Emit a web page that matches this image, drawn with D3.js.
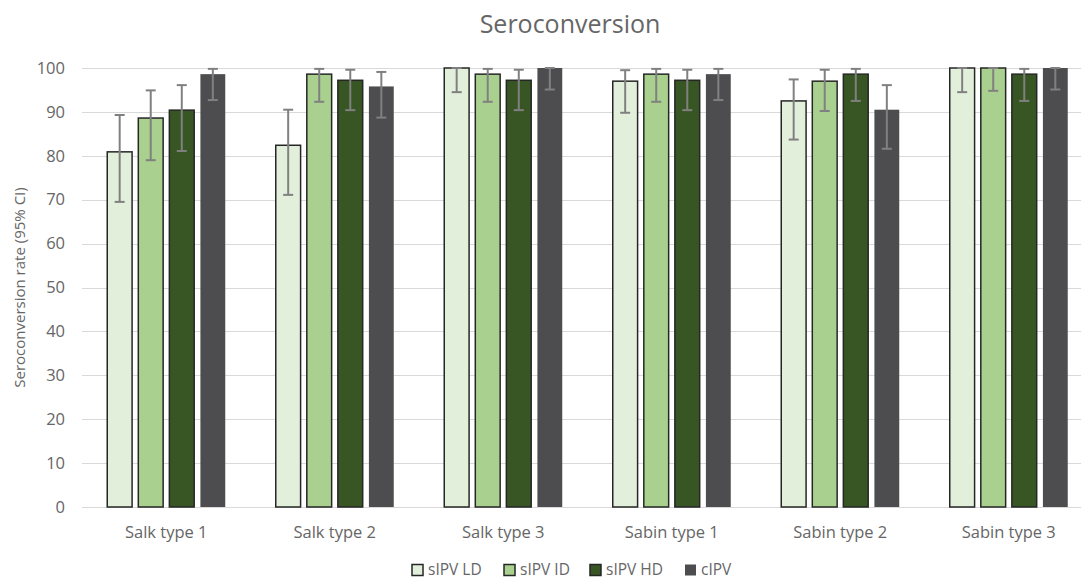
<!DOCTYPE html>
<html>
<head>
<meta charset="utf-8">
<script src="https://cdn.jsdelivr.net/npm/d3@7"></script>
<style>
  body { margin: 0; background: #fff; }
  text { font-family: "Open Sans", sans-serif; fill: #666666; }
</style>
</head>
<body>
<svg id="chart"></svg>
<script>
const categories = ["Salk type 1", "Salk type 2", "Salk type 3", "Sabin type 1", "Sabin type 2", "Sabin type 3"];
const seriesNames = ["sIPV LD", "sIPV ID", "sIPV HD", "cIPV"];
const yTicks = [0, 10, 20, 30, 40, 50, 60, 70, 80, 90, 100];

// seroconversion rate per series, one value per category
const ldValues   = [80.9, 82.4, 100, 97.0, 92.5, 100];
const idValues   = [88.6, 98.6, 98.6, 98.6, 97.0, 100];
const hdValues   = [90.4, 97.2, 97.2, 97.2, 98.6, 98.6];
const cipvValues = [98.6, 95.8, 100, 98.6, 90.5, 100];

// 95% CI lower / upper
const ldLow   = [69.5, 71.1, 94.5, 89.8, 83.7, 94.5];
const ldHigh  = [89.3, 90.5, 100, 99.5, 97.4, 100];
const idLow   = [79.0, 92.3, 92.3, 92.3, 90.2, 94.8];
const idHigh  = [94.9, 99.8, 99.8, 99.8, 99.6, 100];
const hdLow   = [81.1, 90.4, 90.4, 90.4, 92.5, 92.5];
const hdHigh  = [96.1, 99.6, 99.6, 99.6, 99.8, 99.8];
const cipvLow  = [92.7, 88.7, 95.1, 92.7, 81.6, 95.1];
const cipvHigh = [99.8, 99.1, 100, 99.8, 96.1, 100];

const colors = ["#e2efda", "#a9d08e", "#375623", "#4d4d4f"];
const strokes = ["#262626", "#262626", "#262626", "none"];

const seriesVals = [ldValues, idValues, hdValues, cipvValues];
const seriesLow = [ldLow, idLow, hdLow, cipvLow];
const seriesHigh = [ldHigh, idHigh, hdHigh, cipvHigh];

const width = 1081, height = 582;
const margin = {top: 68, right: -12, bottom: 75, left: 82};

const svg = d3.select("#chart").attr("width", width).attr("height", height);

const x0 = d3.scaleBand()
    .domain(categories)
    .range([margin.left, width - margin.right]);

const groupW = 118;
const x1 = d3.scaleBand()
    .domain(seriesNames)
    .range([0, groupW])
    .paddingInner(0.2);

const y = d3.scaleLinear()
    .domain([0, 100])
    .range([height - margin.bottom, margin.top]);

// gridlines
svg.append("g")
    .selectAll("line")
    .data(yTicks)
    .join("line")
    .attr("x1", margin.left)
    .attr("x2", width)
    .attr("y1", d => Math.round(y(d)) + 0.5)
    .attr("y2", d => Math.round(y(d)) + 0.5)
    .attr("stroke", "#d9d9d9")
    .attr("stroke-width", 1);

// y tick labels
svg.append("g")
    .selectAll("text")
    .data(yTicks)
    .join("text")
    .attr("x", 65)
    .attr("y", d => y(d))
    .attr("dy", "0.35em")
    .attr("text-anchor", "end")
    .style("font-size", "16.5px")
    .text(d => d);

// bars
const rows = [];
categories.forEach((c, ci) => {
    seriesNames.forEach((s, si) => {
        rows.push({cat: c, series: s, si: si,
            value: seriesVals[si][ci], low: seriesLow[si][ci], high: seriesHigh[si][ci]});
    });
});

const offset = (x0.bandwidth() - groupW) / 2;
const bars = svg.append("g");
bars.selectAll("rect")
    .data(rows)
    .join("rect")
    .attr("x", d => x0(d.cat) + offset + x1(d.series))
    .attr("y", d => y(d.value))
    .attr("width", x1.bandwidth())
    .attr("height", d => y(0) - y(d.value))
    .attr("fill", d => colors[d.si])
    .attr("stroke", d => strokes[d.si])
    .attr("stroke-width", 1.5);

// error bars
const err = svg.append("g").attr("stroke", "#808080").attr("stroke-width", 2);
rows.forEach(d => {
    const cx = x0(d.cat) + offset + x1(d.series) + x1.bandwidth() / 2;
    err.append("line").attr("x1", cx).attr("x2", cx).attr("y1", y(d.high)).attr("y2", y(d.low));
    [d.high, d.low].forEach(v => {
        err.append("line").attr("x1", cx - 5).attr("x2", cx + 5).attr("y1", y(v)).attr("y2", y(v));
    });
});

// category labels
svg.append("g")
    .selectAll("text")
    .data(categories)
    .join("text")
    .attr("x", d => x0(d) + x0.bandwidth() / 2)
    .attr("y", 538)
    .attr("text-anchor", "middle")
    .style("font-size", "16.5px")
    .text(d => d);

// title
svg.append("text")
    .attr("x", 570)
    .attr("y", 33)
    .attr("text-anchor", "middle")
    .style("font-size", "25px")
    .text("Seroconversion");

// y axis title
svg.append("text")
    .attr("transform", `translate(25, ${(y(0) + y(100)) / 2}) rotate(-90)`)
    .attr("text-anchor", "middle")
    .style("font-size", "15px")
    .text("Seroconversion rate (95% CI)");

// legend
const legendX = [412, 504, 590, 685];
const legend = svg.append("g")
    .selectAll("g")
    .data(seriesNames)
    .join("g")
    .attr("transform", (d, i) => `translate(${legendX[i]}, 570)`);
legend.append("rect")
    .attr("x", 0)
    .attr("y", -5.5)
    .attr("width", 11)
    .attr("height", 11)
    .attr("fill", (d, i) => colors[i])
    .attr("stroke", (d, i) => strokes[i])
    .attr("stroke-width", 1.5);
legend.append("text")
    .attr("x", 16)
    .attr("y", 0)
    .attr("dy", "0.35em")
    .style("font-size", "15.5px")
    .text(d => d);
</script>
</body>
</html>
